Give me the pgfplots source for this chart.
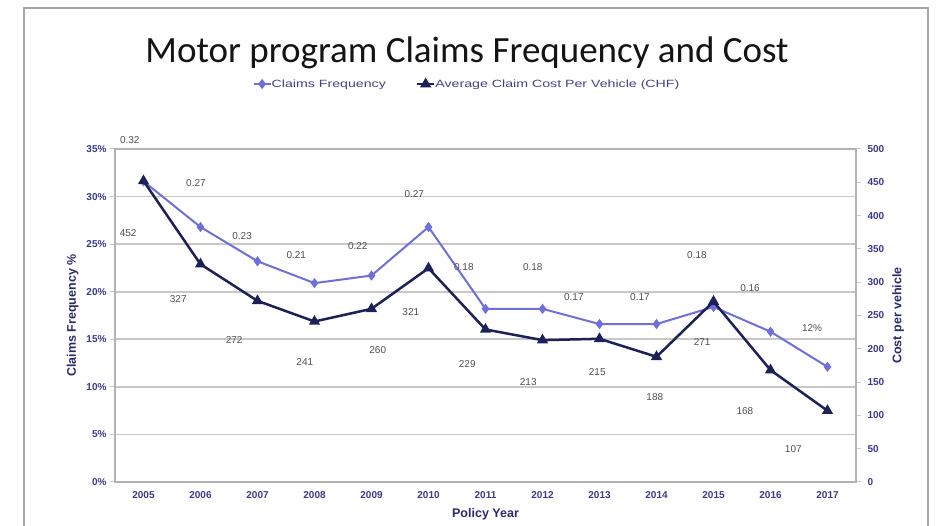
\documentclass[border=0pt]{standalone}
\usepackage{pgfplots}
\pgfplotsset{compat=1.18}
\usepackage{fontspec}
\setmainfont{Liberation Sans}
\newfontfamily\calibri{Carlito}
\newfontfamily\legfont[FakeStretch=1.35]{Liberation Sans}
\definecolor{freq}{HTML}{6F6FDC}
\definecolor{cost}{HTML}{1C2157}
\definecolor{ticklab}{HTML}{3A3A8C}
\definecolor{gridc}{HTML}{C8C8C8}
\definecolor{lab}{HTML}{505050}
\definecolor{axlab}{HTML}{2B2B6B}
\tikzset{lbl/.style={font=\fontsize{10}{12}\selectfont, text=lab}}
\begin{document}
\begin{tikzpicture}
\useasboundingbox (0pt,0pt) rectangle (936pt,526pt);
\fill[white] (0pt,0pt) rectangle (936pt,526pt);
\draw[gray!70, line width=2pt] (24pt,0pt) -- (24pt,518pt) -- (928pt,518pt) -- (928pt,0pt);
\node[font=\calibri\fontsize{37}{44}\selectfont, text=black!92, anchor=base] at (467pt,463pt) {Motor program Claims Frequency and Cost};
\pgfplotsset{
  /pgf/number format/assume math mode=true,
  every tick label/.append style={font=\bfseries\fontsize{10}{12}\selectfont, text=ticklab},
}
\begin{axis}[at={(115pt,44pt)}, anchor=south west, scale only axis, width=741pt, height=333pt,
  xmin=-0.5, xmax=12.5, ymin=0, ymax=35,
  xtick={0,...,12},
  xticklabels={2005,2006,2007,2008,2009,2010,2011,2012,2013,2014,2015,2016,2017},
  ytick={0,5,...,35},
  yticklabel={\pgfmathprintnumber{\tick}\%},
  ytick pos=left, xtick pos=bottom,
  xtick style={draw=none},
  ytick style={gridc, line width=1pt},
  major tick length=5pt,
  tick align=outside,
  axis line style={gray!60, line width=1.2pt},
  ymajorgrids, grid style={gridc, line width=1.6pt},
  xticklabel style={yshift=-1pt},
  clip=false,
  every axis y label/.style={at={(axis description cs:-0.057,0.5)}, rotate=90, anchor=center},
  ylabel={Claims Frequency \%},
  every axis x label/.style={at={(axis description cs:0.5,-0.096)}, anchor=center},
  xlabel={Policy Year},
  label style={font=\bfseries\fontsize{12.5}{14}\selectfont, text=axlab},
  legend style={at={(axis description cs:0.475,1.195)}, anchor=center, draw=none, fill=none,
    font=\legfont\fontsize{10.5}{13}\selectfont, text=freq!60!black, legend columns=2,
    /tikz/every even column/.append style={column sep=28pt},
    /tikz/every odd column/.append style={column sep=-2pt}},
  legend image post style={},
  legend cell align=left,
]
\addplot[freq, line width=2pt, mark=diamond*, mark size=3.5pt] coordinates {
  (0,31.6) (1,26.8) (2,23.2) (3,20.9) (4,21.7) (5,26.8) (6,18.2) (7,18.2) (8,16.6) (9,16.6) (10,18.4) (11,15.8) (12,12.1)};
\addlegendentry{Claims Frequency}
\addlegendimage{cost, line width=2.5pt, mark=triangle*, mark size=4pt}
\addlegendentry{Average Claim Cost Per Vehicle (CHF)}
\node[lbl] at (axis cs:-0.24,35.9) {0.32};
\node[lbl] at (axis cs:0.92,31.4) {0.27};
\node[lbl] at (axis cs:1.73,25.9) {0.23};
\node[lbl] at (axis cs:2.68,23.9) {0.21};
\node[lbl] at (axis cs:3.76,24.8) {0.22};
\node[lbl] at (axis cs:4.75,30.3) {0.27};
\node[lbl] at (axis cs:5.62,22.6) {0.18};
\node[lbl] at (axis cs:6.83,22.6) {0.18};
\node[lbl] at (axis cs:7.55,19.4) {0.17};
\node[lbl] at (axis cs:8.71,19.4) {0.17};
\node[lbl] at (axis cs:9.71,23.8) {0.18};
\node[lbl] at (axis cs:10.64,20.4) {0.16};
\node[lbl] at (axis cs:11.73,16.2) {12\%};
\node[lbl] at (axis cs:-0.27,26.2) {452};
\node[lbl] at (axis cs:0.61,19.2) {327};
\node[lbl] at (axis cs:1.59,14.9) {272};
\node[lbl] at (axis cs:2.83,12.6) {241};
\node[lbl] at (axis cs:4.11,13.9) {260};
\node[lbl] at (axis cs:4.69,17.9) {321};
\node[lbl] at (axis cs:5.68,12.4) {229};
\node[lbl] at (axis cs:6.75,10.5) {213};
\node[lbl] at (axis cs:7.96,11.6) {215};
\node[lbl] at (axis cs:8.97,8.9) {188};
\node[lbl] at (axis cs:9.80,14.7) {271};
\node[lbl] at (axis cs:10.55,7.5) {168};
\node[lbl] at (axis cs:11.4,3.5) {107};
\end{axis}
\begin{axis}[at={(115pt,44pt)}, anchor=south west, scale only axis, width=741pt, height=333pt,
  xmin=-0.5, xmax=12.5, ymin=0, ymax=500,
  ytick={0,50,...,500},
  axis x line=none, axis y line*=right,
  axis line style={gray!60, line width=1.2pt},
  ytick style={gridc, line width=1pt},
  major tick length=5pt, tick align=outside,
  every axis y label/.style={at={(axis description cs:1.057,0.5)}, rotate=90, anchor=center},
  ylabel={Cost per vehicle},
  label style={font=\bfseries\fontsize{12.5}{14}\selectfont, text=axlab},
  yticklabel style={xshift=3pt},
  clip=false,
]
\addplot[cost, line width=2.5pt, mark=triangle*, mark size=4pt] coordinates {
  (0,452) (1,327) (2,272) (3,241) (4,260) (5,321) (6,229) (7,213) (8,215) (9,188) (10,271) (11,168) (12,107)};
\end{axis}
\end{tikzpicture}
\end{document}
